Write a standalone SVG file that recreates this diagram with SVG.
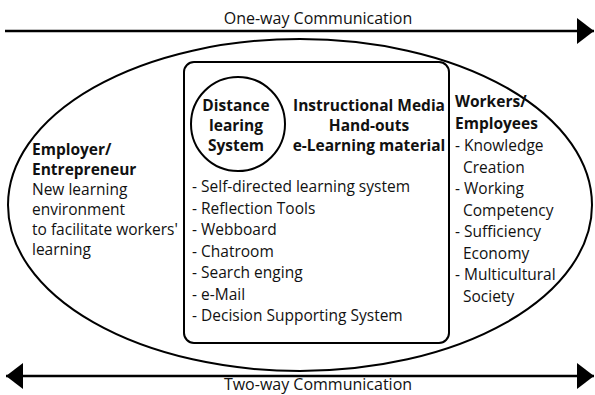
<svg xmlns="http://www.w3.org/2000/svg" width="595" height="395" viewBox="0 0 595 395">
  <style>
    .line { stroke: #000; stroke-width: 2.5; fill: none; }
    .shape { stroke: #000; stroke-width: 2; fill: none; }
    .t { font-family: "Open Sans", "Liberation Sans", sans-serif; font-size: 15.5px; fill: #111; }
    .flow { font-size: 16px; }
    .b { font-weight: bold; }
    .c { text-anchor: middle; }
  </style>
  <defs>
    <marker id="head" markerUnits="userSpaceOnUse" markerWidth="18" markerHeight="28" refX="17" refY="13" orient="auto-start-reverse">
      <path d="M0,0 L17,13 L0,26 Z" fill="#000"/>
    </marker>
  </defs>

  <rect width="595" height="395" fill="#fff"/>

  <!-- communication flows -->
  <g id="connectors">
    <line class="line" x1="5" y1="31" x2="594" y2="31" marker-end="url(#head)"/>
    <text class="t flow c" x="318" y="24">One-way Communication</text>
    <line class="line" x1="6" y1="376" x2="594" y2="376" marker-start="url(#head)" marker-end="url(#head)"/>
    <text class="t flow c" x="318" y="390">Two-way Communication</text>
  </g>

  <!-- organisation boundary -->
  <g id="organisation">
    <ellipse class="shape" cx="300" cy="205" rx="292" ry="166"/>
  </g>

  <!-- employer side -->
  <g id="employer">
    <text class="t b" x="32" y="155">Employer/</text>
    <text class="t b" x="32" y="175">Entrepreneur</text>
    <text class="t" x="32" y="195">New learning</text>
    <text class="t" x="32" y="215">environment</text>
    <text class="t" x="32" y="235">to facilitate workers'</text>
    <text class="t" x="32" y="255">learning</text>
  </g>

  <!-- learning platform -->
  <g id="platform">
    <rect class="shape" x="184" y="62" width="265" height="281" rx="10"/>
    <text class="t b c" x="369" y="111">Instructional Media</text>
    <text class="t b c" x="369" y="131">Hand-outs</text>
    <text class="t b c" x="369" y="151">e-Learning material</text>
    <text class="t" x="192" y="192">- Self-directed learning system</text>
    <text class="t" x="192" y="213.5">- Reflection Tools</text>
    <text class="t" x="192" y="235">- Webboard</text>
    <text class="t" x="192" y="256.5">- Chatroom</text>
    <text class="t" x="192" y="278">- Search enging</text>
    <text class="t" x="192" y="299.5">- e-Mail</text>
    <text class="t" x="192" y="321">- Decision Supporting System</text>
  </g>

  <g id="distance-system">
    <circle class="shape" cx="238" cy="124" r="47"/>
    <text class="t b c" x="236" y="111">Distance</text>
    <text class="t b c" x="236" y="131">learing</text>
    <text class="t b c" x="236" y="151">System</text>
  </g>

  <!-- worker side -->
  <g id="workers">
    <text class="t b" x="455" y="107">Workers/</text>
    <text class="t b" x="455" y="129">Employees</text>
    <text class="t" x="455" y="151">- Knowledge</text>
    <text class="t" x="463" y="172.5">Creation</text>
    <text class="t" x="455" y="194">- Working</text>
    <text class="t" x="463" y="215.5">Competency</text>
    <text class="t" x="455" y="237">- Sufficiency</text>
    <text class="t" x="463" y="258.5">Economy</text>
    <text class="t" x="455" y="280">- Multicultural</text>
    <text class="t" x="463" y="301.5">Society</text>
  </g>
</svg>
